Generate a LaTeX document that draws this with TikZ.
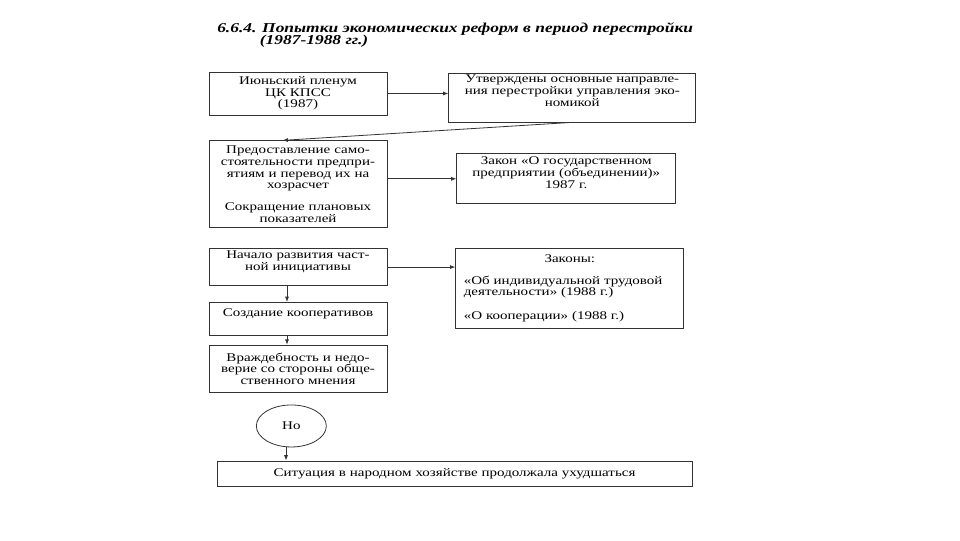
\documentclass[tikz,border=0pt]{standalone}
\usepackage{fontspec}
\setmainfont{Liberation Serif}[FakeStretch=1.28]
\usetikzlibrary{arrows.meta,positioning,shapes.geometric}

\begin{document}
\begin{tikzpicture}[
  box/.style={draw=black!80, line width=0.6pt, text width=#1, inner xsep=0pt, inner ysep=1pt, align=center, text=black, font=\fontsize{8.8}{8.8}\selectfont},
  arr/.style={-{Latex[length=4pt,width=3pt]}, line width=0.6pt, draw=black!80},
  ttl/.style={anchor=base west, inner sep=0pt, text=black, font=\fontsize{10.2}{10.2}\selectfont\bfseries\itshape}
]
\useasboundingbox (0,0) rectangle (720pt,-405pt);
\node[ttl] (title) at (162.75pt,-24pt) {6.6.4. Попытки экономических реформ в период перестройки};
\node[ttl] (years) at ([xshift=32pt,yshift=-9pt]title.base west) {(1987-1988 гг.)};

% left column
\node[box=133.5pt, minimum height=32.25pt] (plenum) at (223.5pt,-70.1pt) {Июньский пленум\\ЦК КПСС\\(1987)};
\node[box=133.5pt, minimum height=65.25pt, below=18.75pt of plenum] (predost) {Предоставление само-\\стоятельности предпри-\\ятиям и перевод их на\\хозрасчет\\[7.5pt]Сокращение плановых\\показателей};
\node[box=133.5pt, minimum height=27.75pt, text depth=18.8pt, below=15pt of predost] (nachalo) {Начало развития част-\\ной инициативы};
\node[box=133.5pt, minimum height=24.75pt, text depth=9pt, below=12pt of nachalo] (sozd) {Создание кооперативов};
\node[box=133.5pt, minimum height=35.25pt, below=6.75pt of sozd] (vrazh) {Враждебность и недо-\\верие со стороны обще-\\ственного мнения};
\node[ellipse, draw=black!80, line width=0.6pt, minimum width=52.5pt, minimum height=31.5pt, inner sep=0pt, text=black, font=\fontsize{8.8}{8.8}\selectfont, below=9pt of vrazh, xshift=-5pt] (but) {Но};
\node[box=356.25pt, minimum height=18.75pt] (situac) at (340.9pt,-355.1pt) {Ситуация в народном хозяйстве продолжала ухудшаться};

% right column
\node[box=185.25pt, minimum height=36.75pt, text depth=27.6pt, right=45.75pt of plenum, yshift=-3pt] (napr) {Утверждены основные направле-\\ния перестройки управления эко-\\номикой};
\node[box=164.25pt, minimum height=37.5pt, text depth=27pt, right=51.75pt of predost, yshift=4.1pt] (zakon) {Закон «О государственном\\предприятии (объединении)»\\1987 г.};
\node[box=159pt, inner xsep=6pt, align=left, minimum height=60pt, right=51pt of nachalo.north east, anchor=north west] (zakony) {\makebox[\linewidth]{Законы:}\\[7pt]«Об индивидуальной трудовой\\деятельности» (1988 г.)\\[9pt]«О кооперации» (1988 г.)};

\draw[arr] (plenum.east) -- (plenum.east -| napr.west);
\draw[arr] (napr.south) -- ([xshift=-11.6pt]predost.north);
\draw[arr] (predost.east |- zakon.west) -- (zakon.west);
\draw[arr] (nachalo.east) -- (nachalo.east -| zakony.west);
\draw[arr] ([xshift=-8.25pt]nachalo.south) -- ([xshift=-8.25pt]sozd.north);
\draw[arr] ([xshift=-8.25pt]sozd.south) -- ([xshift=-8.25pt]vrazh.north);
\draw[arr] ([xshift=-4pt]but.south) -- ([xshift=-4pt]but.south |- situac.north);
\end{tikzpicture}
\end{document}
